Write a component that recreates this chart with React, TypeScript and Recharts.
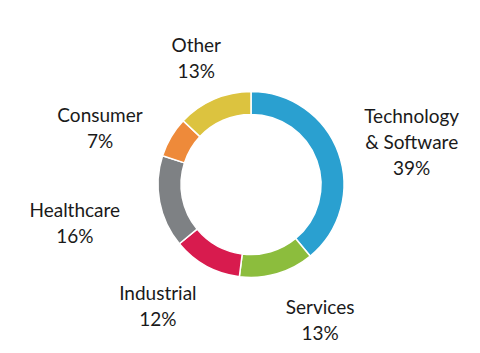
import React from "react";
import { PieChart, Pie, Cell } from "recharts";

const categories = [
  "Technology\n& Software",
  "Services",
  "Industrial",
  "Healthcare",
  "Consumer",
  "Other",
];
const shares = [39, 13, 12, 16, 7, 13];
const colors = ["#2aa0d0", "#8cbd3d", "#d81b4e", "#7e8184", "#ee8a3a", "#dcc33f"];

// label nudges (text placement tweaks relative to polar anchor)
const labelNudgeX = [12, 25, -17, -21, -15, 8];
const labelNudgeY = [11, -17, -17, 8, 23, 18.5];

const data = categories.map((c, i) => ({ name: c, value: shares[i] }));

const RAD = Math.PI / 180;
const LINE_H = 26;

const renderLabel = (props: any) => {
  const { cx, cy, midAngle, index, payload } = props;
  const r = 158;
  const x = cx + r * Math.cos(-midAngle * RAD) + labelNudgeX[index];
  const y = cy + r * Math.sin(-midAngle * RAD) + labelNudgeY[index];
  const lines = [...String(payload.name).split("\n"), `${payload.value}%`];
  const n = lines.length;
  return (
    <text
      x={x}
      y={y}
      textAnchor="middle"
      fill="#1a1a1a"
      fontFamily="Lato, 'Open Sans', sans-serif"
      fontSize={19}
    >
      {lines.map((l, i) => (
        <tspan
          key={i}
          x={x}
          y={y + (i - (n - 1) / 2) * LINE_H}
          dominantBaseline="central"
        >
          {l}
        </tspan>
      ))}
    </text>
  );
};

export default function App() {
  return (
    <div style={{ position: "fixed", left: 0, top: 0, width: 480, height: 353, background: "#fff" }}>
      <PieChart width={480} height={353} margin={{ top: 0, right: 0, bottom: 0, left: 0 }}>
        <Pie
          data={data}
          dataKey="value"
          nameKey="name"
          cx={251}
          cy={184.5}
          innerRadius={70}
          outerRadius={93}
          startAngle={90}
          endAngle={-270}
          stroke="#ffffff"
          strokeWidth={1.5}
          label={renderLabel}
          labelLine={false}
          isAnimationActive={false}
        >
          {data.map((d, i) => (
            <Cell key={d.name} fill={colors[i]} />
          ))}
        </Pie>
      </PieChart>
    </div>
  );
}
